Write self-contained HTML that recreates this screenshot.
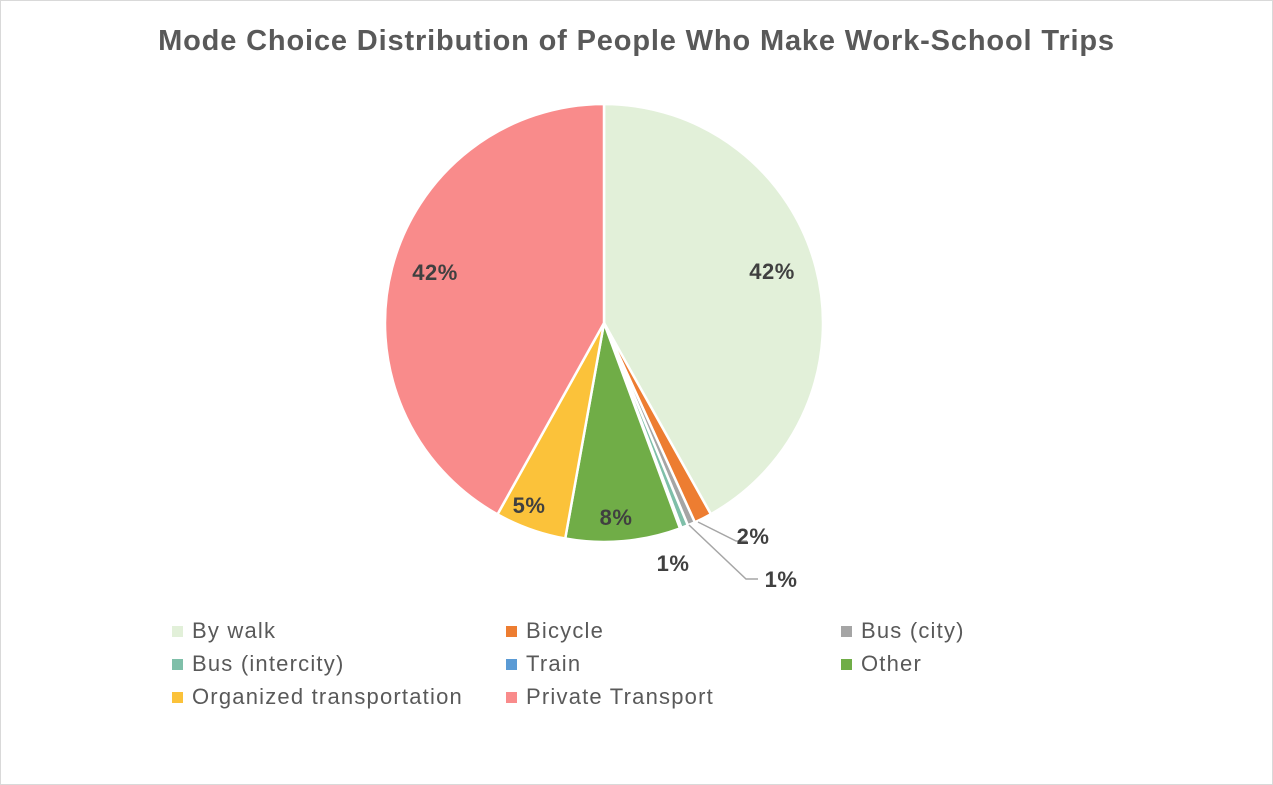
<!DOCTYPE html>
<html><head><meta charset="utf-8"><style>
html,body{margin:0;padding:0;background:#fff;}
#c{position:relative;width:1271px;height:783px;border:1px solid #d9d9d9;overflow:hidden;font-family:"Liberation Sans",sans-serif;}
.t{position:absolute;top:24px;left:0;width:1271px;text-align:center;font-size:29px;letter-spacing:0.85px;font-weight:bold;color:#595959;}
.lg{position:absolute;font-size:22px;letter-spacing:1.2px;color:#595959;}
.lg i{display:inline-block;width:11px;height:11px;margin-right:9px;vertical-align:1px;}
</style></head><body><div id="c">
<div class="t">Mode Choice Distribution of People Who Make Work-School Trips</div>
<svg id="s" width="1271" height="783" style="position:absolute;left:0;top:0">
<g id="p"></g>
<polyline points="697,521 735,540 746,540" fill="none" stroke="#a6a6a6" stroke-width="1.5"/>
<polyline points="688,524 745,578 757,578" fill="none" stroke="#a6a6a6" stroke-width="1.5"/>
<g font-family="Liberation Sans, sans-serif" font-size="22" font-weight="bold" fill="#404040" text-anchor="middle" letter-spacing="0.5">
<text x="771" y="278">42%</text>
<text x="434" y="279">42%</text>
<text x="615" y="524">8%</text>
<text x="528" y="512">5%</text>
<text x="672" y="570">1%</text>
<text x="752" y="543">2%</text>
<text x="780" y="586">1%</text>
</g>
</svg>
<div class="lg" style="left:171px;top:617px"><i style="background:#E2F0D9"></i>By walk</div>
<div class="lg" style="left:505px;top:617px"><i style="background:#ED7D31"></i>Bicycle</div>
<div class="lg" style="left:840px;top:617px"><i style="background:#A5A5A5"></i>Bus (city)</div>
<div class="lg" style="left:171px;top:650px"><i style="background:#7FBFA9"></i>Bus (intercity)</div>
<div class="lg" style="left:505px;top:650px"><i style="background:#5B9BD5"></i>Train</div>
<div class="lg" style="left:840px;top:650px"><i style="background:#70AD47"></i>Other</div>
<div class="lg" style="left:171px;top:683px"><i style="background:#FBC23A"></i>Organized transportation</div>
<div class="lg" style="left:505px;top:683px"><i style="background:#F98B8B"></i>Private Transport</div>
<script>
var cx=603,cy=322,r=219;
var s=[[0,150.8,"#E2F0D9"],[150.8,155.5,"#ED7D31"],[155.5,157.5,"#A5A5A5"],[157.5,159.3,"#7FBFA9"],[159.3,159.7,"#5B9BD5"],[159.7,190.2,"#70AD47"],[190.2,209.1,"#FBC23A"],[209.1,360,"#F98B8B"]];
var h="";
function pt(a){a=a*Math.PI/180;return (cx+r*Math.sin(a)).toFixed(2)+","+(cy-r*Math.cos(a)).toFixed(2);}
s.forEach(function(d){var l=(d[1]-d[0])>180?1:0;
h+='<path d="M'+cx+','+cy+' L'+pt(d[0])+' A'+r+','+r+' 0 '+l+' 1 '+pt(d[1])+' Z" fill="'+d[2]+'" stroke="#fff" stroke-width="2.5" stroke-linejoin="round"/>';});
document.getElementById("p").innerHTML=h;
</script>
</div></body></html>
